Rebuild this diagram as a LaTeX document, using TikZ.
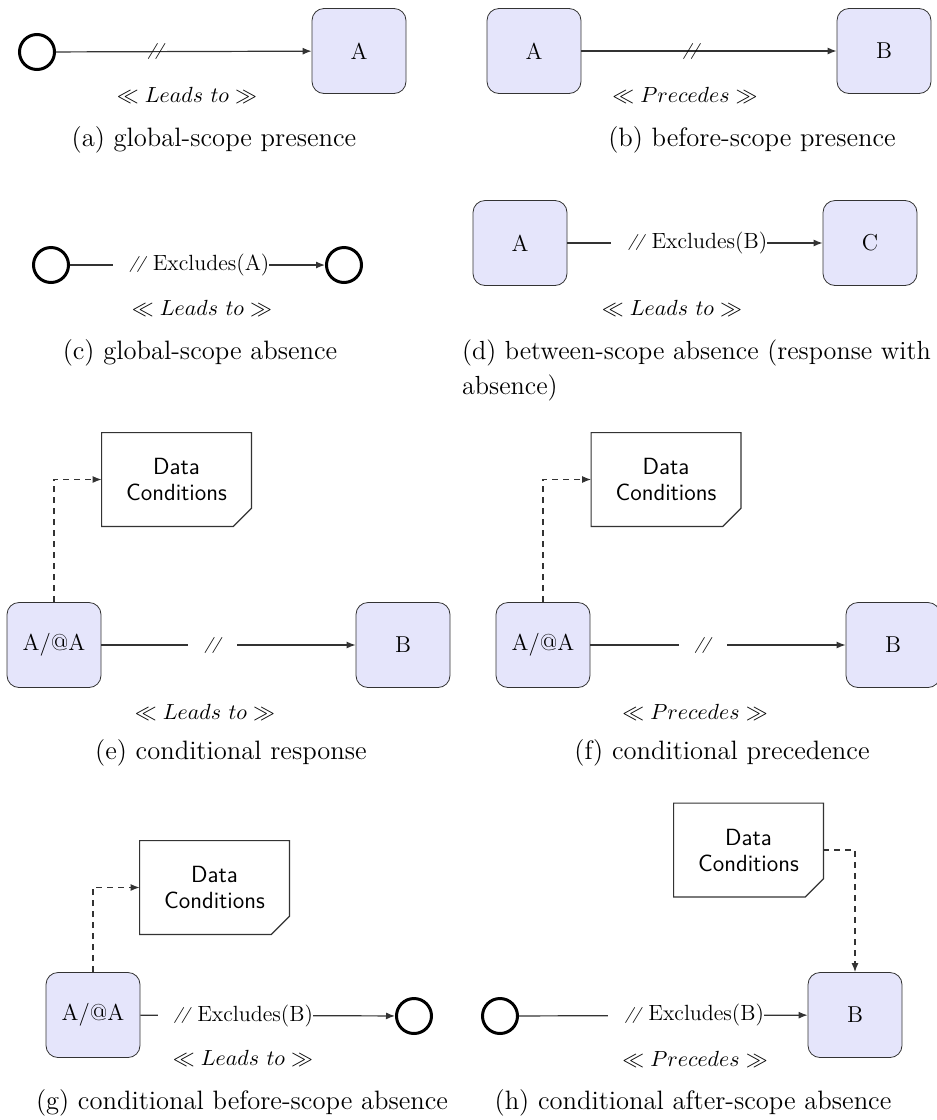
\documentclass[tikz,border=0pt]{standalone}
\usetikzlibrary{arrows.meta}
\definecolor{boxfill}{RGB}{229,229,251}
\newcommand{\slsh}{{\fontsize{8}{9}\selectfont\itshape\raisebox{0.8pt}{/\kern-0.6pt/}}}
\tikzset{
  act/.style={draw=black!80, fill=boxfill, rounded corners=6pt, minimum width=47pt, minimum height=42.5pt, inner sep=0pt, font=\fontsize{11.5}{13}\selectfont},
  ev/.style={circle, draw=black, line width=1.5pt, minimum size=17.5pt, inner sep=0pt},
  conn/.style={draw=black!80, line width=0.6pt, -{Latex[length=4.5pt,width=3.5pt]}},
  dashconn/.style={conn, dashed, dash pattern=on 3pt off 2.5pt},
  rel/.style={font=\fontsize{11.4}{13}\selectfont},
  captxt/.style={font=\fontsize{13.3}{16}\selectfont},
  slashmark/.style={inner sep=0pt},
  gapslash/.style={fill=white, inner xsep=8pt, inner ysep=2pt},
  exlab/.style={fill=white, inner sep=0pt, anchor=east, font=\fontsize{11}{13}\selectfont},
  dcbox/.style={minimum width=74.5pt, minimum height=46.5pt, inner sep=0pt, align=center, font=\sffamily\fontsize{11.7}{13}\selectfont},
  dcline/.style={draw=black!80, line width=0.6pt},
}
\begin{document}
\begin{tikzpicture}[x=0.5pt, y=-0.5pt]
\useasboundingbox (0,0) rectangle (937,1120);

% (a)
\node[ev] (a1) at (37,52) {};
\node[act] (a2) at (359,51) {A};
\draw[conn] (a1) -- node[slashmark, pos=0.39] (a3) {\slsh} (a2);
\node[rel] (a4) at (187,95) {$\ll Leads\ to \gg$};
\node[captxt] (a5) at (214,140) {(a) global-scope presence};

% (b)
\node[act] (b1) at (534,51) {A};
\node[act] (b2) at (884,51) {B};
\draw[conn] (b1) -- node[slashmark, pos=0.43] (b3) {\slsh} (b2);
\node[rel] (b4) at (685,95) {$\ll Precedes \gg$};
\node[captxt] (b5) at (752,140) {(b) before-scope presence};

% (c)
\node[ev] (c1) at (51,265) {};
\node[ev] (c2) at (344,265) {};
\draw[conn] (c1) -- node[exlab, pos=0.784] (c3) {\hspace{8pt}\slsh\ Excludes(A)} (c2);
\node[rel] (c4) at (202,308) {$\ll Leads\ to \gg$};
\node[captxt] (c5) at (200,353) {(c) global-scope absence};

% (d)
\node[act] (d1) at (520,243) {A};
\node[act] (d2) at (870,243) {C};
\draw[conn] (d1) -- node[exlab, pos=0.785] (d3) {\hspace{8.5pt}\slsh\ Excludes(B)} (d2);
\node[rel] (d4) at (672,308) {$\ll Leads\ to \gg$};
\node[captxt, align=left, anchor=west, font=\fontsize{13.1}{17.5}\selectfont] (d5) at (455,370.5) {(d) between-scope absence (response with\\absence)};

% (e)
\node[dcbox] (edc) at (176.5,479.5) {Data\\Conditions};
\draw[dcline] (edc.north west) -- (edc.north east) -- ([yshift=9pt]edc.south east) -- ([xshift=-9pt]edc.south east) -- (edc.south west) -- cycle;
\node[act] (e1) at (54,645) {A/@A};
\node[act] (e2) at (403,645) {B};
\draw[dashconn] (e1.north) |- (edc.west);
\draw[conn] (e1) -- node[gapslash, pos=0.4375] (e3) {\slsh} (e2);
\node[rel] (e4) at (205,712) {$\ll Leads\ to \gg$};
\node[captxt] (e5) at (231,753) {(e) conditional response};

% (f)
\node[dcbox] (fdc) at (666,479.5) {Data\\Conditions};
\draw[dcline] (fdc.north west) -- (fdc.north east) -- ([yshift=9pt]fdc.south east) -- ([xshift=-9pt]fdc.south east) -- (fdc.south west) -- cycle;
\node[act] (f1) at (543,645) {A/@A};
\node[act] (f2) at (893,645) {B};
\draw[dashconn] (f1.north) |- (fdc.west);
\draw[conn] (f1) -- node[gapslash, pos=0.44] (f3) {\slsh} (f2);
\node[rel] (f4) at (695,712) {$\ll Precedes \gg$};
\node[captxt] (f5) at (722,753) {(f) conditional precedence};

% (g)
\node[dcbox] (gdc) at (214.5,887.5) {Data\\Conditions};
\draw[dcline] (gdc.north west) -- (gdc.north east) -- ([yshift=9pt]gdc.south east) -- ([xshift=-9pt]gdc.south east) -- (gdc.south west) -- cycle;
\node[act] (g1) at (93,1015) {A/@A};
\node[ev] (g2) at (414,1016) {};
\draw[dashconn] (g1.north) |- (gdc.west);
\draw[conn] (g1) -- node[exlab, pos=0.68] (g3) {\hspace{8pt}\slsh\ Excludes(B)} (g2);
\node[rel] (g4) at (243,1058) {$\ll Leads\ to \gg$};
\node[captxt] (g5) at (242,1103) {(g) conditional before-scope absence};

% (h)
\node[dcbox] (hdc) at (748.5,850) {Data\\Conditions};
\draw[dcline] (hdc.north west) -- (hdc.north east) -- ([yshift=9pt]hdc.south east) -- ([xshift=-9pt]hdc.south east) -- (hdc.south west) -- cycle;
\node[act] (h2) at (855,1015) {B};
\node[ev] (h1) at (500,1016) {};
\draw[dashconn] (hdc.east) -| (h2.north);
\draw[conn] (h1) -- node[exlab, pos=0.851] (h3) {\hspace{8.5pt}\slsh\ Excludes(B)} (h2);
\node[rel] (h4) at (695,1059) {$\ll Precedes \gg$};
\node[captxt] (h5) at (693,1103) {(h) conditional after-scope absence};
\end{tikzpicture}
\end{document}
